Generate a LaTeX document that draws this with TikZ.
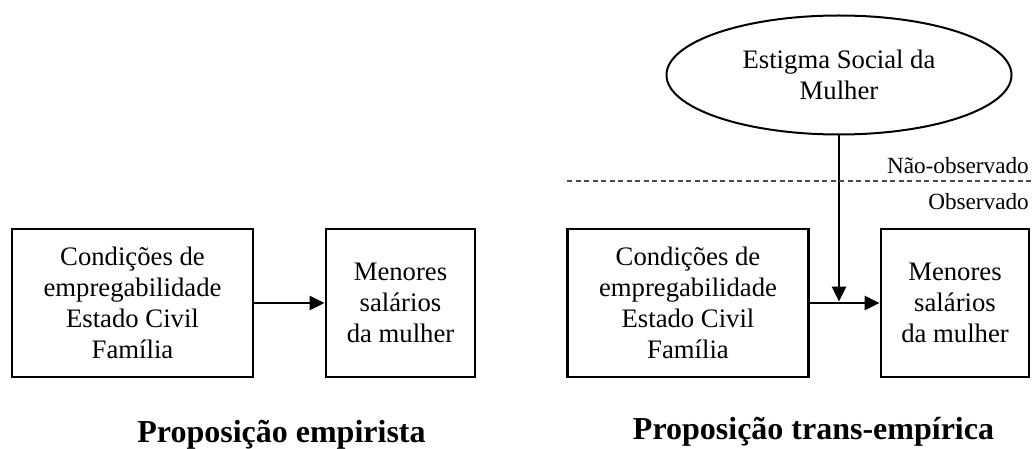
\documentclass[tikz,border=0pt]{standalone}
\usepackage{fontspec}
\setmainfont{Liberation Serif}
\usetikzlibrary{arrows.meta,shapes.geometric}
\begin{document}
\begin{tikzpicture}[x=1pt,y=-1pt,
  box/.style={draw,line width=2.8pt,inner sep=0pt,align=center,
    font=\fontsize{26.7}{31}\selectfont},
  ell/.style={draw,ellipse,line width=2pt,inner sep=0pt,align=center,
    font=\fontsize{26.7}{31}\selectfont},
  arr/.style={line width=2.8pt,-{Triangle[length=15pt,width=14pt]}},
  lvl/.style={font=\fontsize{23.2}{26}\selectfont,inner sep=0pt},
  title/.style={font=\fontsize{32}{36}\selectfont\bfseries,inner sep=0pt}]
\useasboundingbox (0,0) rectangle (1032,449);
% left diagram
\node[box,minimum width=241pt,minimum height=148pt] (b1) at (132.5,303)
  {Condições de\\empregabilidade\\Estado Civil\\Família};
\node[box,minimum width=149pt,minimum height=148pt] (b2) at (400.5,303)
  {Menores\\salários\\da mulher};
\draw[arr] (b1.east) -- (b2.west);
\node[title,anchor=base] (t1) at (281.5,442) {Proposição empirista};
% right diagram
\node[box,minimum width=241pt,minimum height=148pt] (b3) at (688,303)
  {Condições de\\empregabilidade\\Estado Civil\\Família};
\node[box,minimum width=148pt,minimum height=148pt] (b4) at (955,303)
  {Menores\\salários\\da mulher};
\node[ell,minimum width=345pt,minimum height=119pt] (e) at (839,75)
  {Estigma Social da\\Mulher};
\draw[arr] (b3.east) -- (b4.west);
\coordinate (j) at (839,301.5);
\draw[arr] (e.south) -- (j);
\coordinate (dl) at (567,181);
\coordinate (dr) at (1031,181);
\draw[line width=1.3pt,black!70,dash pattern=on 5pt off 3.5pt] (dl) -- (dr);
\node[lvl,anchor=base east] (no) at (1029,174) {Não-observado};
\node[lvl,anchor=base east] (ob) at (1029,209) {Observado};
\node[title,anchor=base] (t2) at (813.5,439) {Proposição trans-empírica};
\end{tikzpicture}
\end{document}
